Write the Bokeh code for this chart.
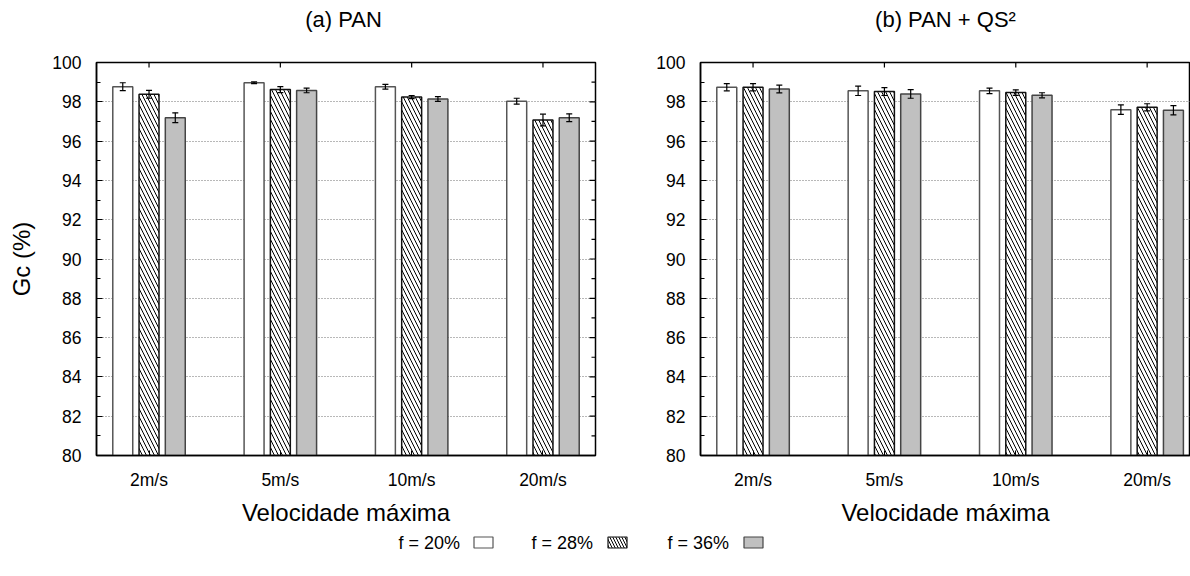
import math
from bokeh.plotting import figure
from bokeh.models import (ColumnDataSource, FixedTicker, Range1d,
                          Whisker, TeeHead)
from bokeh.layouts import row, column
from bokeh.embed import file_html
from bokeh.resources import INLINE
from bokeh.core.properties import value

# ---------------- data ----------------
categories = ["2m/s", "5m/s", "10m/s", "20m/s"]
series_names = ["f = 20%", "f = 28%", "f = 36%"]
panel_titles = ["(a) PAN", "(b) PAN + QS²"]

pan_f20 = [98.77, 98.97, 98.77, 98.03]
pan_f28 = [98.38, 98.62, 98.24, 97.07]
pan_f36 = [97.19, 98.58, 98.14, 97.19]
pan_f20_err = [0.20, 0.04, 0.12, 0.15]
pan_f28_err = [0.20, 0.15, 0.08, 0.30]
pan_f36_err = [0.25, 0.12, 0.12, 0.20]

qs_f20 = [98.74, 98.56, 98.56, 97.60]
qs_f28 = [98.74, 98.52, 98.47, 97.72]
qs_f36 = [98.65, 98.40, 98.33, 97.57]
qs_f20_err = [0.18, 0.24, 0.14, 0.24]
qs_f28_err = [0.18, 0.20, 0.14, 0.18]
qs_f36_err = [0.20, 0.22, 0.13, 0.24]

y_ticks = [80, 82, 84, 86, 88, 90, 92, 94, 96, 98, 100]
y_minor = [81, 83, 85, 87, 89, 91, 93, 95, 97, 99]

# ---------------- style ----------------
FONT = "Liberation Sans"
offsets = [-0.2, 0.0, 0.2]
bar_w = 0.152
fills = ["white", "white", "#c0c0c0"]
hatches = [None, "\\", None]
lines = ["#555555", "#111111", "#444444"]
TOTAL_W = 1190


def make_panel(vals, errs, width, min_left, min_right, xmax, ylabel,
               right_ticks):
    p = figure(width=width, height=488, output_backend="svg",
               toolbar_location=None, x_range=Range1d(-0.4, xmax),
               y_range=Range1d(80, 100), min_border_left=min_left,
               min_border_right=min_right, min_border_top=22,
               min_border_bottom=72)
    p.outline_line_color = "black"
    p.outline_line_width = 1.5
    p.background_fill_color = "white"
    p.border_fill_color = "white"

    # x axis
    cat_pos = list(range(len(categories)))
    p.xaxis.ticker = FixedTicker(ticks=cat_pos, minor_ticks=[])
    p.xaxis.major_label_overrides = {i: c for i, c in enumerate(categories)}
    p.xaxis.major_label_text_font = FONT
    p.xaxis.major_label_text_font_size = "17.5px"
    p.xaxis.major_label_text_color = "black"
    p.xaxis.major_tick_in = 5
    p.xaxis.major_tick_out = 0
    p.xaxis.major_label_standoff = 14
    p.xaxis.axis_label = "Velocidade máxima"
    p.xaxis.axis_label_text_font = FONT
    p.xaxis.axis_label_text_font_size = "24px"
    p.xaxis.axis_label_text_font_style = "normal"
    p.xaxis.axis_label_text_color = "black"
    p.xaxis.axis_label_standoff = 6
    p.xaxis.axis_line_width = 1.5

    # y axis
    p.yaxis.ticker = FixedTicker(ticks=y_ticks, minor_ticks=y_minor)
    p.yaxis.major_label_text_font = FONT
    p.yaxis.major_label_text_font_size = "17.5px"
    p.yaxis.major_label_text_color = "black"
    p.yaxis.major_tick_in = 6
    p.yaxis.major_tick_out = 0
    p.yaxis.minor_tick_in = 4
    p.yaxis.minor_tick_out = 0
    p.yaxis.major_label_standoff = 15
    p.yaxis.axis_line_width = 1.5
    if ylabel:
        p.yaxis.axis_label = ylabel
        p.yaxis.axis_label_text_font = FONT
        p.yaxis.axis_label_text_font_size = "24px"
        p.yaxis.axis_label_text_font_style = "normal"
        p.yaxis.axis_label_text_color = "black"
        p.yaxis.axis_label_standoff = 14

    p.xgrid.visible = False
    p.ygrid.grid_line_color = "#707070"
    p.ygrid.grid_line_dash = "1 2"
    p.ygrid.grid_line_width = 1

    # mirrored inward ticks (markers centred on the frame edge; the outer
    # half is clipped by the frame)
    p.scatter(x=cat_pos, y=[100] * len(cat_pos), marker="dash", size=10,
              angle=math.pi / 2, line_color="black", line_width=1.2)
    if right_ticks:
        p.scatter(x=[xmax] * len(y_ticks), y=y_ticks, marker="dash", size=12,
                  line_color="black", line_width=1.2)
        p.scatter(x=[xmax] * len(y_minor), y=y_minor, marker="dash", size=8,
                  line_color="black", line_width=1.2)

    for k in range(3):
        xs = [i + offsets[k] for i in range(len(categories))]
        src = ColumnDataSource(dict(
            x=xs, top=vals[k],
            upper=[v + e for v, e in zip(vals[k], errs[k])],
            lower=[v - e for v, e in zip(vals[k], errs[k])]))
        kw = {}
        if hatches[k]:
            kw = dict(hatch_pattern=hatches[k], hatch_color="black",
                      hatch_scale=8, hatch_weight=1)
        p.vbar(x="x", top="top", bottom=80, width=bar_w, source=src,
               fill_color=fills[k], line_color=lines[k], line_width=1.5, **kw)
        w = Whisker(base="x", upper="upper", lower="lower", source=src,
                    line_color="black", line_width=1.2, level="overlay",
                    upper_head=TeeHead(size=6, line_width=1.2,
                                       line_color="black"),
                    lower_head=TeeHead(size=6, line_width=1.2,
                                       line_color="black"))
        p.add_layout(w)
    return p


def strip(height):
    s = figure(width=TOTAL_W, height=height, output_backend="svg",
               toolbar_location=None, x_range=Range1d(0, TOTAL_W),
               y_range=Range1d(0, height), min_border=0)
    s.axis.visible = False
    s.grid.visible = False
    s.outline_line_color = None
    return s


# ---------------- title strip ----------------
TH = 40
tstrip = strip(TH)
tstrip.text(x=[343, 945], y=[TH - 19] * 2, text=panel_titles,
            text_font=value(FONT), text_font_size="22px",
            text_baseline="middle", text_align="center", text_color="black")

p1 = make_panel([pan_f20, pan_f28, pan_f36],
                [pan_f20_err, pan_f28_err, pan_f36_err],
                width=605, min_left=96, min_right=10, xmax=3.4,
                ylabel="Gc (%)", right_ticks=True)
p2 = make_panel([qs_f20, qs_f28, qs_f36],
                [qs_f20_err, qs_f28_err, qs_f36_err],
                width=585, min_left=95, min_right=0, xmax=3.33,
                ylabel=None, right_ticks=False)

# ---------------- legend strip ----------------
LH = 46
leg = strip(LH)
label_x = [398, 531, 667]
box_x = [483, 617, 753]
leg_y = 32
leg.text(x=label_x, y=[leg_y] * 3, text=series_names, text_font=value(FONT),
         text_font_size="18px", text_baseline="middle", text_align="left",
         text_color="black")
for k in range(3):
    kw = {}
    if hatches[k]:
        kw = dict(hatch_pattern=hatches[k], hatch_color="black",
                  hatch_scale=6, hatch_weight=1)
    leg.rect(x=[box_x[k]], y=[leg_y], width=19, height=11, fill_color=fills[k],
             line_color=lines[k], line_width=1.2, **kw)

layout = column(tstrip, row(p1, p2), leg)
open("out.html", "w").write(file_html(layout, INLINE))
